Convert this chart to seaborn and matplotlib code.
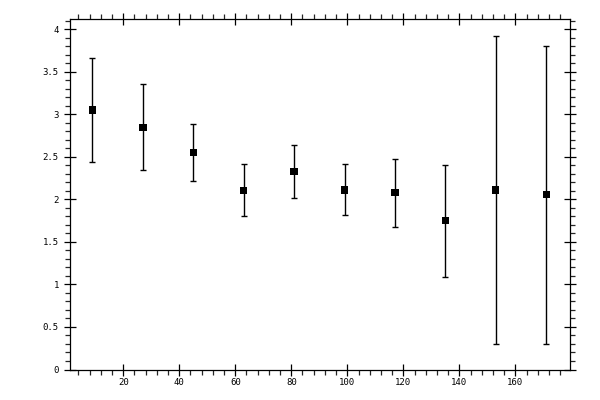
import numpy as np
import pandas as pd
import matplotlib
matplotlib.use("Agg")
import matplotlib.pyplot as plt
from matplotlib.ticker import MultipleLocator, FormatStrFormatter
import seaborn as sns

# point positions and values
x_vals = [9, 27, 45, 63, 81, 99, 117, 135, 153, 171]
y_vals = [3.05, 2.84, 2.55, 2.10, 2.33, 2.11, 2.08, 1.75, 2.11, 2.06]
y_low = [2.44, 2.35, 2.22, 1.80, 2.01, 1.82, 1.68, 1.09, 0.30, 0.30]
y_high = [3.66, 3.35, 2.89, 2.41, 2.64, 2.41, 2.47, 2.40, 3.92, 3.80]

df = pd.DataFrame({'x': x_vals, 'y': y_vals, 'lo': y_low, 'hi': y_high})

sns.set_style("ticks")
plt.rcParams['font.family'] = ['DejaVu Sans Mono', 'DejaVu Sans']

fig = plt.figure(figsize=(6, 4), dpi=100)
ax = fig.add_axes([70 / 600, 30.5 / 400, 500 / 600, 350.2 / 400])

# error bars with small caps
ax.errorbar(df['x'], df['y'],
            yerr=[df['y'] - df['lo'], df['hi'] - df['y']],
            fmt='none', ecolor='black', elinewidth=1.0, capsize=2.2, capthick=1.0)
sns.scatterplot(data=df, x='x', y='y', marker='s', s=28, color='black',
                edgecolor='none', ax=ax, zorder=3)

ax.set_xlim(1, 179.5)
ax.set_ylim(0, 4.115)
ax.xaxis.set_major_locator(MultipleLocator(20))
ax.xaxis.set_minor_locator(MultipleLocator(4))
ax.yaxis.set_major_locator(MultipleLocator(0.5))
ax.yaxis.set_minor_locator(MultipleLocator(0.1))
ax.yaxis.set_major_formatter(FormatStrFormatter('%g'))
ax.set_xlabel('')
ax.set_ylabel('')

for side in ['top', 'right', 'bottom', 'left']:
    ax.spines[side].set_visible(True)
    ax.spines[side].set_linewidth(0.9)
    ax.spines[side].set_color('black')

ax.tick_params(which='major', direction='inout', length=8, width=0.9,
               top=True, right=True, labelsize=6.5, colors='black')
ax.tick_params(axis='y', which='major', pad=4)
ax.tick_params(axis='x', which='major', pad=2)
ax.tick_params(which='minor', direction='out', length=3.5, width=0.9,
               top=True, right=True)

fig.savefig('out.png', dpi=100)
